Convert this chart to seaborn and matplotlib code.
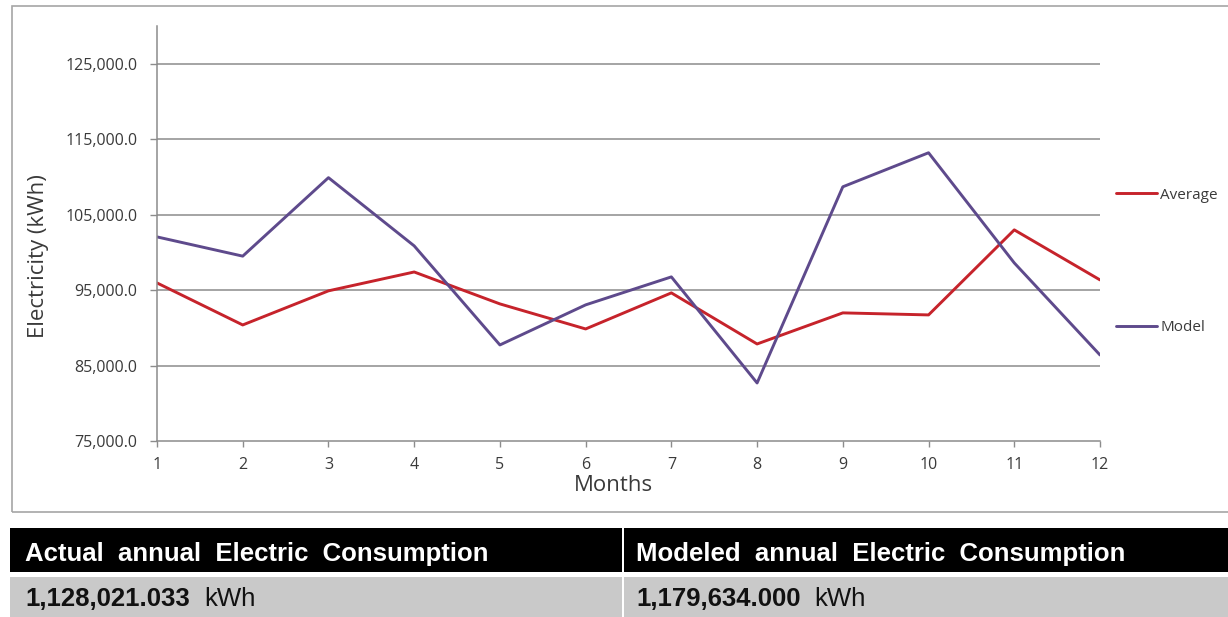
import matplotlib
matplotlib.use("Agg")
import matplotlib.pyplot as plt
from matplotlib.patches import Rectangle
from matplotlib.lines import Line2D
import seaborn as sns
import pandas as pd

# Monthly electricity use (kWh)
months = [1, 2, 3, 4, 5, 6, 7, 8, 9, 10, 11, 12]
average_kwh = [95950, 90380, 94900, 97400, 93170, 89850,
               94630, 87860, 91980, 91710, 102980, 96350]
model_kwh = [102050, 99500, 109900, 100860, 87730, 93040,
             96750, 82690, 108690, 113200, 98600, 86400]
series_names = ["Average", "Model"]
series_colors = ["#C6232B", "#5E4A8C"]
y_ticks = [75000, 85000, 95000, 105000, 115000, 125000]

table_headers = ["Actual annual Electric Consumption",
                 "Modeled annual Electric Consumption"]
table_values = ["1,128,021.033", "1,179,634.000"]
table_unit = "kWh"

df = pd.DataFrame({
    "Months": months * 2,
    "kWh": average_kwh + model_kwh,
    "Series": [series_names[0]] * len(months) + [series_names[1]] * len(months),
})

sns.set_theme(style="white")
plt.rcParams["font.family"] = ["Open Sans", "DejaVu Sans"]

W, H = 1228, 617
fig = plt.figure(figsize=(W / 100, H / 100), dpi=100)

def fx(px):
    return px / W

def fy(py):
    return 1 - py / H

text_color = "#3a3a3a"

# Chart frame
fig.patches.append(Rectangle((fx(12), fy(512)), fx(1240) - fx(12), fy(6) - fy(512),
                             transform=fig.transFigure, fill=False,
                             edgecolor="#a6a6a6", linewidth=1.2))

ax = fig.add_axes([fx(157), fy(441), fx(1100) - fx(157), fy(26) - fy(441)])
sns.lineplot(data=df, x="Months", y="kWh", hue="Series", hue_order=series_names,
             palette=series_colors, linewidth=2.1, ax=ax, legend=False)

ax.set_xlim(1, 12)
ax.set_ylim(75000, 130000)
ax.set_xticks(months)
ax.set_xticklabels([str(m) for m in months])
ax.set_yticks(y_ticks)
ax.set_yticklabels([f"{v:,.1f}" for v in y_ticks])
ax.tick_params(axis="both", labelsize=11.5, length=5, width=1,
               direction="out", bottom=True, left=True, color="#8c8c8c")
ax.tick_params(axis="y", pad=9)
ax.tick_params(axis="x", length=4.5, pad=7)
for t in ax.get_xticklabels() + ax.get_yticklabels():
    t.set_color(text_color)

for v in y_ticks[1:]:
    ax.axhline(v, color="#8c8c8c", linewidth=1.1, zorder=0)

for side in ["top", "right"]:
    ax.spines[side].set_visible(False)
for side in ["left", "bottom"]:
    ax.spines[side].set_color("#8c8c8c")
    ax.spines[side].set_linewidth(1.1)

ax.set_xlabel("Months", fontsize=16, color=text_color)
ax.set_ylabel("Electricity (kWh)", fontsize=16, color=text_color)
ax.xaxis.set_label_coords((613 - 157) / 943, (441 - 475) / 415)
ax.yaxis.set_label_coords((49 - 157) / 943, (441 - 256) / 415)

# Legend at the right side of the chart
handles = [Line2D([], [], color=c, linewidth=2.1) for c in series_colors]
fig.legend(handles, series_names, loc="upper left",
           bbox_to_anchor=(fx(1102), fy(174)), frameon=False,
           fontsize=11, labelspacing=7.7, handlelength=2.7,
           handletextpad=0.2, labelcolor=text_color)

# Summary table below the chart
fig.patches.append(Rectangle((fx(10), fy(572)), fx(1230) - fx(10), fy(528) - fy(572),
                             transform=fig.transFigure, facecolor="black",
                             edgecolor="none"))
fig.patches.append(Rectangle((fx(10), fy(620)), fx(1230) - fx(10), fy(577) - fy(620),
                             transform=fig.transFigure, facecolor="#c9c9c9",
                             edgecolor="none"))
fig.patches.append(Rectangle((fx(622), fy(620)), fx(2.5), fy(528) - fy(620),
                             transform=fig.transFigure, facecolor="white",
                             edgecolor="none"))

cell_font = dict(family="Liberation Sans", fontsize=18.5, va="baseline", ha="left")
col_x = [25, 636]
for x0, head, val in zip(col_x, table_headers, table_values):
    # header words are set with generous spacing
    fig.text(fx(x0), fy(561), "  ".join(head.split(" ")), color="white",
             fontweight="bold", **cell_font)
    tv = fig.text(fx(x0), fy(606), val, color="#111111", fontweight="bold",
                  **cell_font)
    fig.canvas.draw()
    bb = tv.get_window_extent()
    fig.text(bb.x1 / W + fx(14), fy(606), table_unit, color="#111111", **cell_font)

fig.savefig("out.png", dpi=100, facecolor="white")
